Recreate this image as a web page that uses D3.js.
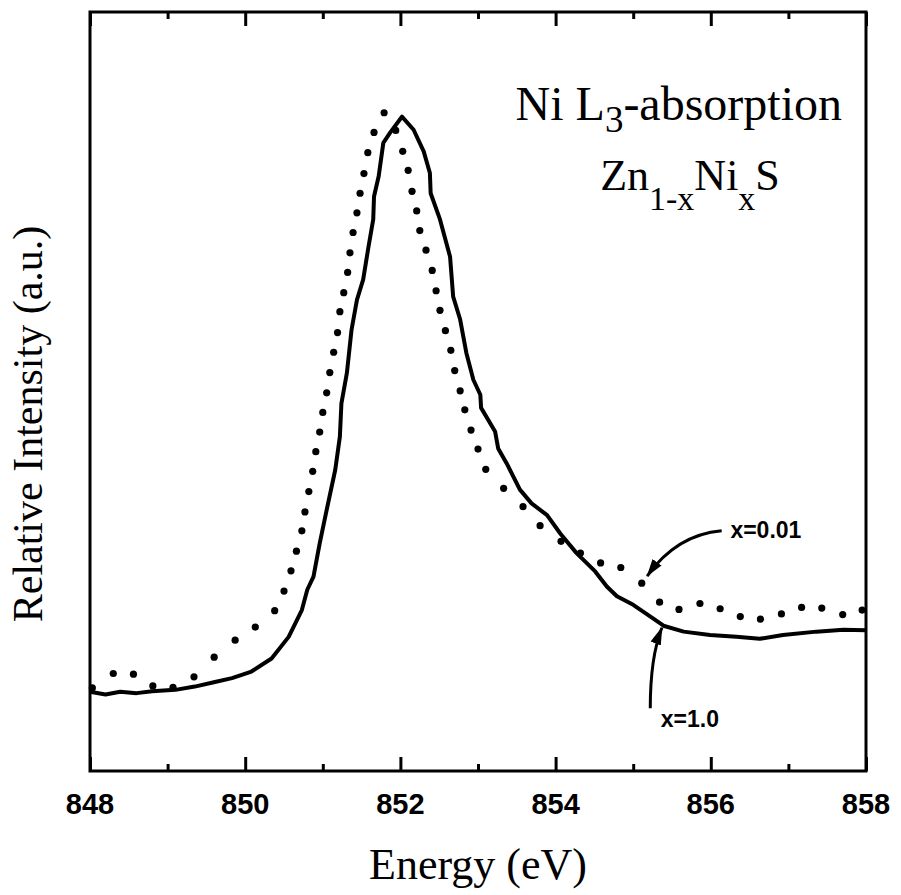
<!DOCTYPE html>
<html>
<head>
<meta charset="utf-8">
<script src="https://cdn.jsdelivr.net/npm/d3@7"></script>
<style>
  body { margin: 0; background: #fff; }
  svg { display: block; }
</style>
</head>
<body>
<div id="chart"></div>
<script>
// x = 1.0 (solid line)
const energySolid = [848.00, 848.20, 848.39, 848.60, 848.80, 849.10, 849.35, 849.61, 849.83, 850.08,
  850.34, 850.56, 850.73, 850.80, 850.88, 850.96, 851.05, 851.16, 851.22, 851.24,
  851.31, 851.37, 851.44, 851.52, 851.59, 851.65, 851.66, 851.72, 851.78, 851.87,
  852.02, 852.17, 852.30, 852.38, 852.39, 852.51, 852.64, 852.68, 852.77, 852.85,
  852.94, 853.03, 853.04, 853.22, 853.26, 853.37, 853.54, 853.69, 853.89, 854.06,
  854.27, 854.51, 854.66, 854.79, 855.00, 855.26, 855.39, 855.65, 855.99, 856.33,
  856.63, 856.93, 857.36, 857.71, 858.00];
const intensitySolid = [0.121, 0.117, 0.121, 0.119, 0.122, 0.124, 0.129, 0.136, 0.142, 0.152,
  0.172, 0.205, 0.246, 0.277, 0.297, 0.348, 0.399, 0.460, 0.511, 0.562,
  0.608, 0.674, 0.720, 0.751, 0.802, 0.843, 0.878, 0.909, 0.960, 0.976,
  1.000, 0.980, 0.947, 0.914, 0.883, 0.843, 0.786, 0.725, 0.690, 0.639,
  0.598, 0.575, 0.555, 0.519, 0.493, 0.470, 0.430, 0.409, 0.391, 0.363,
  0.333, 0.305, 0.282, 0.267, 0.254, 0.233, 0.222, 0.213, 0.208, 0.205,
  0.202, 0.208, 0.213, 0.216, 0.215];

// x = 0.01 (dotted)
const energyDots = [848.03, 848.30, 848.56, 848.81, 849.07, 849.34, 849.60, 849.87, 850.13, 850.38,
  850.50, 850.59, 850.66, 850.73, 850.77, 850.82, 850.87, 850.91, 850.96, 851.00,
  851.05, 851.09, 851.14, 851.19, 851.22, 851.27, 851.32, 851.35, 851.39, 851.44,
  851.48, 851.53, 851.58, 851.66, 851.79, 851.94, 852.03, 852.10, 852.15, 852.21,
  852.25, 852.33, 852.41, 852.46, 852.51, 852.58, 852.65, 852.70, 852.77, 852.83,
  852.91, 853.00, 853.10, 853.33, 853.58, 853.80, 854.07, 854.32, 854.58, 854.84,
  855.11, 855.34, 855.59, 855.86, 856.12, 856.38, 856.64, 856.91, 857.17, 857.43,
  857.70, 857.95];
const intensityDots = [0.127, 0.149, 0.148, 0.130, 0.128, 0.144, 0.174, 0.200, 0.220, 0.245,
  0.275, 0.306, 0.336, 0.367, 0.396, 0.427, 0.458, 0.488, 0.518, 0.548,
  0.578, 0.609, 0.640, 0.670, 0.702, 0.731, 0.762, 0.792, 0.823, 0.853,
  0.883, 0.913, 0.945, 0.976, 1.006, 0.979, 0.947, 0.918, 0.886, 0.856,
  0.826, 0.796, 0.765, 0.734, 0.704, 0.673, 0.643, 0.612, 0.581, 0.552,
  0.521, 0.492, 0.461, 0.432, 0.404, 0.375, 0.351, 0.333, 0.318, 0.311,
  0.287, 0.258, 0.247, 0.256, 0.248, 0.236, 0.232, 0.240, 0.250, 0.249,
  0.239, 0.246];

const majorTicks = [848, 850, 852, 854, 856, 858];
const minorTicks = [849, 851, 853, 855, 857];

// annotation arrows: start, control, tip (eV, intensity)
const arrowDots = [[856.14, 0.367], [855.56, 0.361], [855.18, 0.298]];
const arrowSolid = [[855.22, 0.096], [855.22, 0.174], [855.37, 0.219]];
const labelDots = { text: 'x=0.01', e: 856.71, i: 0.356 };
const labelSolid = { text: 'x=1.0', e: 855.73, i: 0.067 };

const width = 901;
const height = 895;
const box = { left: 90, right: 866, top: 12, bottom: 771 };

const svg = d3.select('#chart').append('svg')
  .attr('width', width)
  .attr('height', height)
  .attr('viewBox', `0 0 ${width} ${height}`);

const x = d3.scaleLinear().domain([848, 858]).range([box.left, box.right]);
const y = d3.scaleLinear().domain([0, 1.16]).range([box.bottom, box.top]);

// ticks, inward on top and bottom
function tickAxis(axisFn, ticks, size, ypos) {
  const g = svg.append('g')
    .attr('transform', `translate(0, ${ypos})`)
    .call(axisFn(x).tickValues(ticks).tickSize(-size).tickFormat(''));
  g.select('.domain').remove();
  g.selectAll('line').attr('stroke', '#000').attr('stroke-width', 3);
  return g;
}
tickAxis(d3.axisBottom, majorTicks, 14, box.bottom);
tickAxis(d3.axisBottom, minorTicks, 7, box.bottom);
tickAxis(d3.axisTop, majorTicks, 14, box.top);
tickAxis(d3.axisTop, minorTicks, 7, box.top);

// tick labels
svg.append('g').selectAll('text')
  .data(majorTicks)
  .join('text')
  .attr('x', (d) => x(d))
  .attr('y', 814)
  .attr('text-anchor', 'middle')
  .style('font-family', '"Liberation Sans", Arial, sans-serif')
  .style('font-weight', 'bold')
  .style('font-size', '29px')
  .text((d) => d);

// frame
svg.append('rect')
  .attr('x', box.left)
  .attr('y', box.top)
  .attr('width', box.right - box.left)
  .attr('height', box.bottom - box.top)
  .attr('fill', 'none')
  .attr('stroke', '#000')
  .attr('stroke-width', 3);

// curves
const line = d3.line()
  .x((d) => x(d[0]))
  .y((d) => y(d[1]));

const solidData = energySolid.map((e, i) => [e, intensitySolid[i]]);
svg.append('path')
  .datum(solidData)
  .attr('d', line)
  .attr('fill', 'none')
  .attr('stroke', '#000')
  .attr('stroke-width', 4)
  .attr('stroke-linejoin', 'round');

const dotData = energyDots.map((e, i) => [e, intensityDots[i]]);
svg.append('g').selectAll('circle')
  .data(dotData)
  .join('circle')
  .attr('cx', (d) => x(d[0]))
  .attr('cy', (d) => y(d[1]))
  .attr('r', 3.6)
  .attr('fill', '#000');

// arrows
svg.append('defs').append('marker')
  .attr('id', 'head')
  .attr('markerUnits', 'userSpaceOnUse')
  .attr('viewBox', '0 -6 18 12')
  .attr('refX', 17)
  .attr('refY', 0)
  .attr('markerWidth', 18)
  .attr('markerHeight', 12)
  .attr('orient', 'auto')
  .append('path')
  .attr('d', 'M0,-5.5L18,0L0,5.5Z')
  .attr('fill', '#000');

function arrow(pts) {
  const p = d3.path();
  p.moveTo(x(pts[0][0]), y(pts[0][1]));
  p.quadraticCurveTo(x(pts[1][0]), y(pts[1][1]), x(pts[2][0]), y(pts[2][1]));
  svg.append('path')
    .attr('d', p.toString())
    .attr('fill', 'none')
    .attr('stroke', '#000')
    .attr('stroke-width', 3)
    .attr('marker-end', 'url(#head)');
}
arrow(arrowDots);
arrow(arrowSolid);

svg.selectAll('.note')
  .data([labelDots, labelSolid])
  .join('text')
  .attr('class', 'note')
  .attr('x', (d) => x(d.e))
  .attr('y', (d) => y(d.i))
  .attr('text-anchor', 'middle')
  .style('font-family', '"Liberation Sans", Arial, sans-serif')
  .style('font-weight', 'bold')
  .style('font-size', '23px')
  .text((d) => d.text);

// serif labels
const serif = '"Liberation Serif", "Times New Roman", serif';

svg.append('text')
  .attr('x', (box.left + box.right) / 2)
  .attr('y', 879)
  .attr('text-anchor', 'middle')
  .style('font-family', serif)
  .style('font-size', '44px')
  .text('Energy (eV)');

svg.append('text')
  .attr('transform', 'translate(42, 424) rotate(-90)')
  .attr('text-anchor', 'middle')
  .style('font-family', serif)
  .style('font-size', '42px')
  .text('Relative Intensity (a.u.)');

const title = svg.append('text')
  .attr('x', 842)
  .attr('y', 120)
  .attr('text-anchor', 'end')
  .style('font-family', serif)
  .style('font-size', '48px');
title.append('tspan').text('Ni L');
title.append('tspan').attr('dy', 12).style('font-size', '37px').text('3');
title.append('tspan').attr('dy', -12).text('-absorption');

const formula = svg.append('text')
  .attr('x', 690)
  .attr('y', 190)
  .attr('text-anchor', 'middle')
  .style('font-family', serif)
  .style('font-size', '44px');
formula.append('tspan').text('Zn');
formula.append('tspan').attr('dy', 20).style('font-size', '34px').text('1-x');
formula.append('tspan').attr('dy', -20).text('Ni');
formula.append('tspan').attr('dy', 20).style('font-size', '34px').text('x');
formula.append('tspan').attr('dy', -20).text('S');
</script>
</body>
</html>
